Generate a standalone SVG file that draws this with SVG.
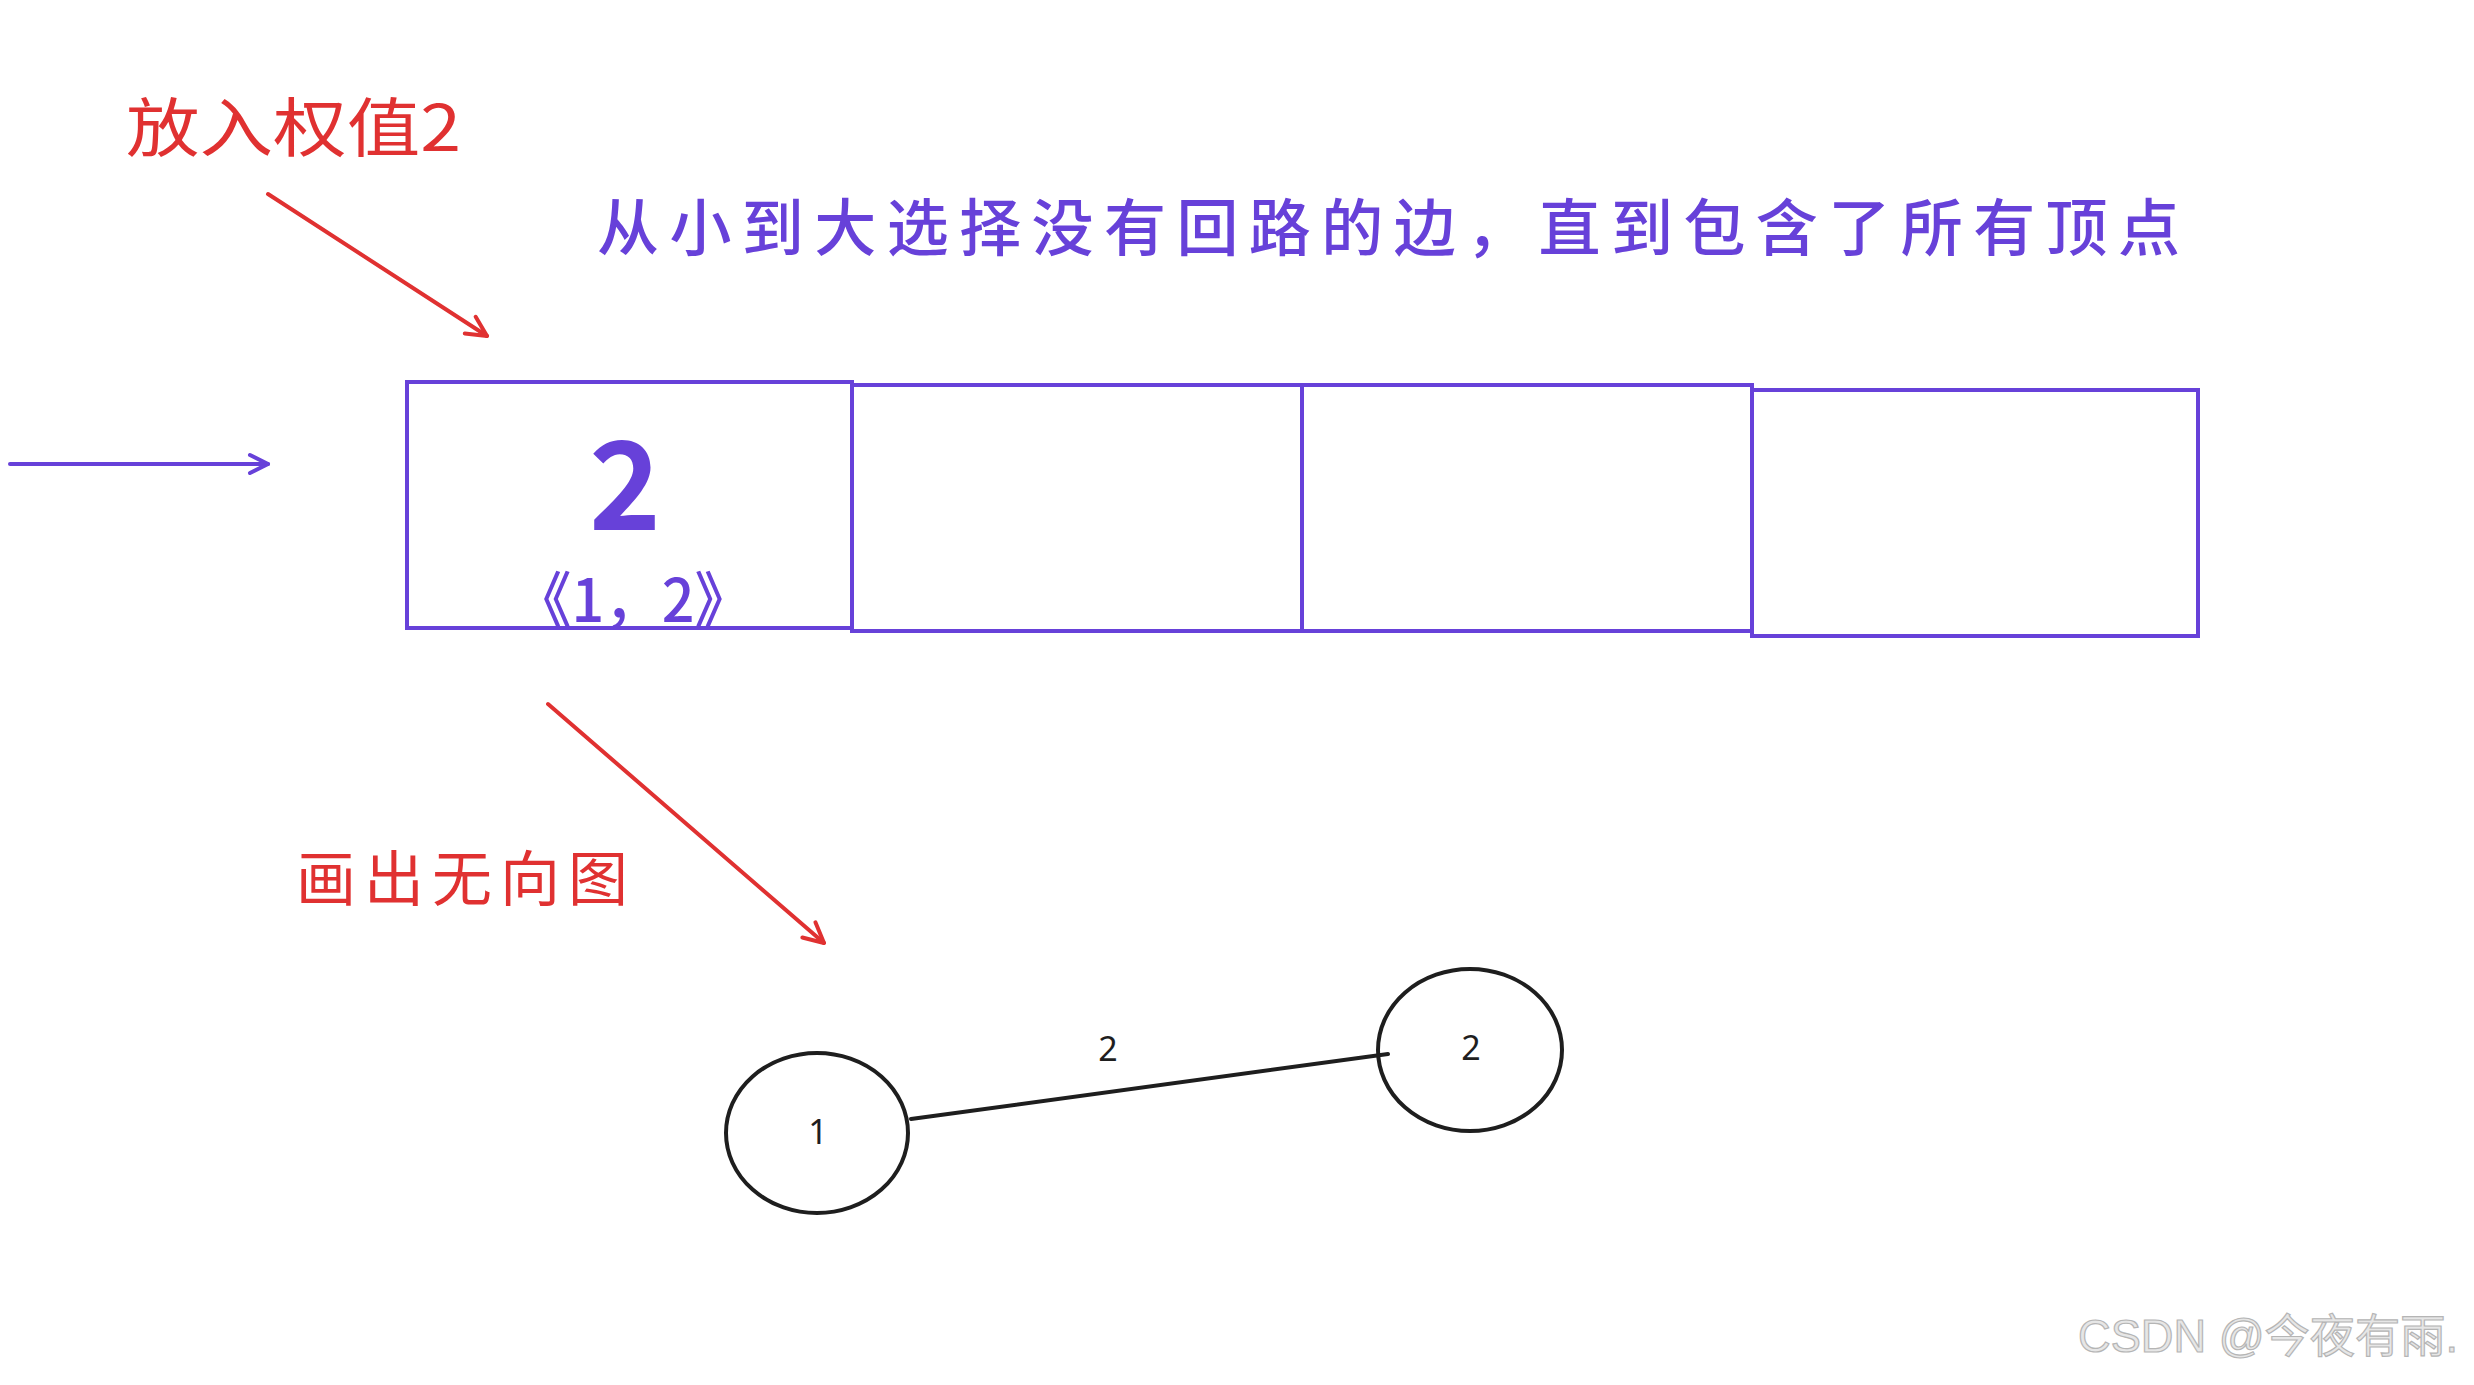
<svg xmlns="http://www.w3.org/2000/svg" width="2474" height="1385" viewBox="0 0 2474 1385">
  <defs>
    <style>
      .red { fill: #e03131; font-family: "Noto Sans CJK SC", "Noto Sans", sans-serif; }
      .purple { fill: #6741d9; font-family: "Noto Sans CJK SC", "Noto Sans", sans-serif; }
      .box { fill: none; stroke: #6741d9; stroke-width: 4; }
      .node { fill: none; stroke: #1e1e1e; stroke-width: 4; }
      .lbl { fill: #1e1e1e; font-family: "Noto Sans", "Liberation Sans", sans-serif; text-anchor: middle; }
      .redline { stroke: #e03131; stroke-width: 4; fill: none; stroke-linecap: round; }
      .purpleline { stroke: #6741d9; stroke-width: 4; fill: none; stroke-linecap: round; }
      .edge { stroke: #1e1e1e; stroke-width: 4; fill: none; stroke-linecap: round; }
      .wm { fill: #e6e6e6; stroke: #b5b5b5; stroke-width: 1.2; font-family: "Liberation Sans", "Noto Sans CJK SC", sans-serif; }
    </style>
    <marker id="arrRed" viewBox="0 0 30 30" refX="26" refY="15" markerWidth="30" markerHeight="30" markerUnits="userSpaceOnUse" orient="auto">
      <path d="M6,5 L26,15 L6,25" fill="none" stroke="#e03131" stroke-width="4" stroke-linecap="round" stroke-linejoin="round"/>
    </marker>
    <marker id="arrPurple" viewBox="0 0 30 30" refX="26" refY="15" markerWidth="30" markerHeight="30" markerUnits="userSpaceOnUse" orient="auto">
      <path d="M8,6 L26,15 L8,24" fill="none" stroke="#6741d9" stroke-width="4" stroke-linecap="round" stroke-linejoin="round"/>
    </marker>
  </defs>
  <rect width="2474" height="1385" fill="#ffffff"/>

  <g id="title-put-weight">
    <text class="red" x="126" y="151" font-size="64" textLength="335" lengthAdjust="spacingAndGlyphs">放入权值2</text>
  </g>
  <g id="title-rule">
    <text class="purple" x="597" y="251" font-size="62" font-weight="500" textLength="1583" lengthAdjust="spacing">从小到大选择没有回路的边，直到包含了所有顶点</text>
  </g>
  <g id="title-draw-graph">
    <text class="red" x="296" y="901" font-size="60" textLength="332" lengthAdjust="spacing">画出无向图</text>
  </g>

  <g id="cell-1">
    <polygon class="box" points="407,382 852,382 852,628 407,628"/>
    <text class="purple" x="625" y="530" font-size="122" font-weight="bold" text-anchor="middle" font-family="Noto Sans, sans-serif">2</text>
    <text class="purple" x="514" y="622" font-size="60" font-weight="500" textLength="238" lengthAdjust="spacingAndGlyphs">《1，2》</text>
  </g>
  <g id="cell-2">
    <polygon class="box" points="852,385 1302,385 1302,631 852,631"/>
  </g>
  <g id="cell-3">
    <polygon class="box" points="1302,385 1752,385 1752,631 1302,631"/>
  </g>
  <g id="cell-4">
    <polygon class="box" points="1752,390 2198,390 2198,636 1752,636"/>
  </g>

  <g id="node-1">
    <ellipse class="node" cx="817" cy="1133" rx="91" ry="80"/>
    <text class="lbl" x="818" y="1144" font-size="34">1</text>
  </g>
  <g id="node-2">
    <ellipse class="node" cx="1470" cy="1050" rx="92" ry="81"/>
    <text class="lbl" x="1471" y="1060" font-size="34">2</text>
  </g>

  <g id="connectors">
    <line class="redline" x1="268" y1="194" x2="487" y2="336" marker-end="url(#arrRed)"/>
    <line class="redline" x1="548" y1="704" x2="824" y2="943" marker-end="url(#arrRed)"/>
    <line class="purpleline" x1="10" y1="464" x2="268" y2="464" marker-end="url(#arrPurple)"/>
    <line class="edge" x1="911" y1="1119" x2="1388" y2="1054"/>
    <text class="lbl" x="1108" y="1061" font-size="34">2</text>
  </g>

  <g id="watermark">
    <text class="wm" x="2078" y="1352" font-size="46" textLength="380" lengthAdjust="spacingAndGlyphs">CSDN @今夜有雨.</text>
  </g>
</svg>
